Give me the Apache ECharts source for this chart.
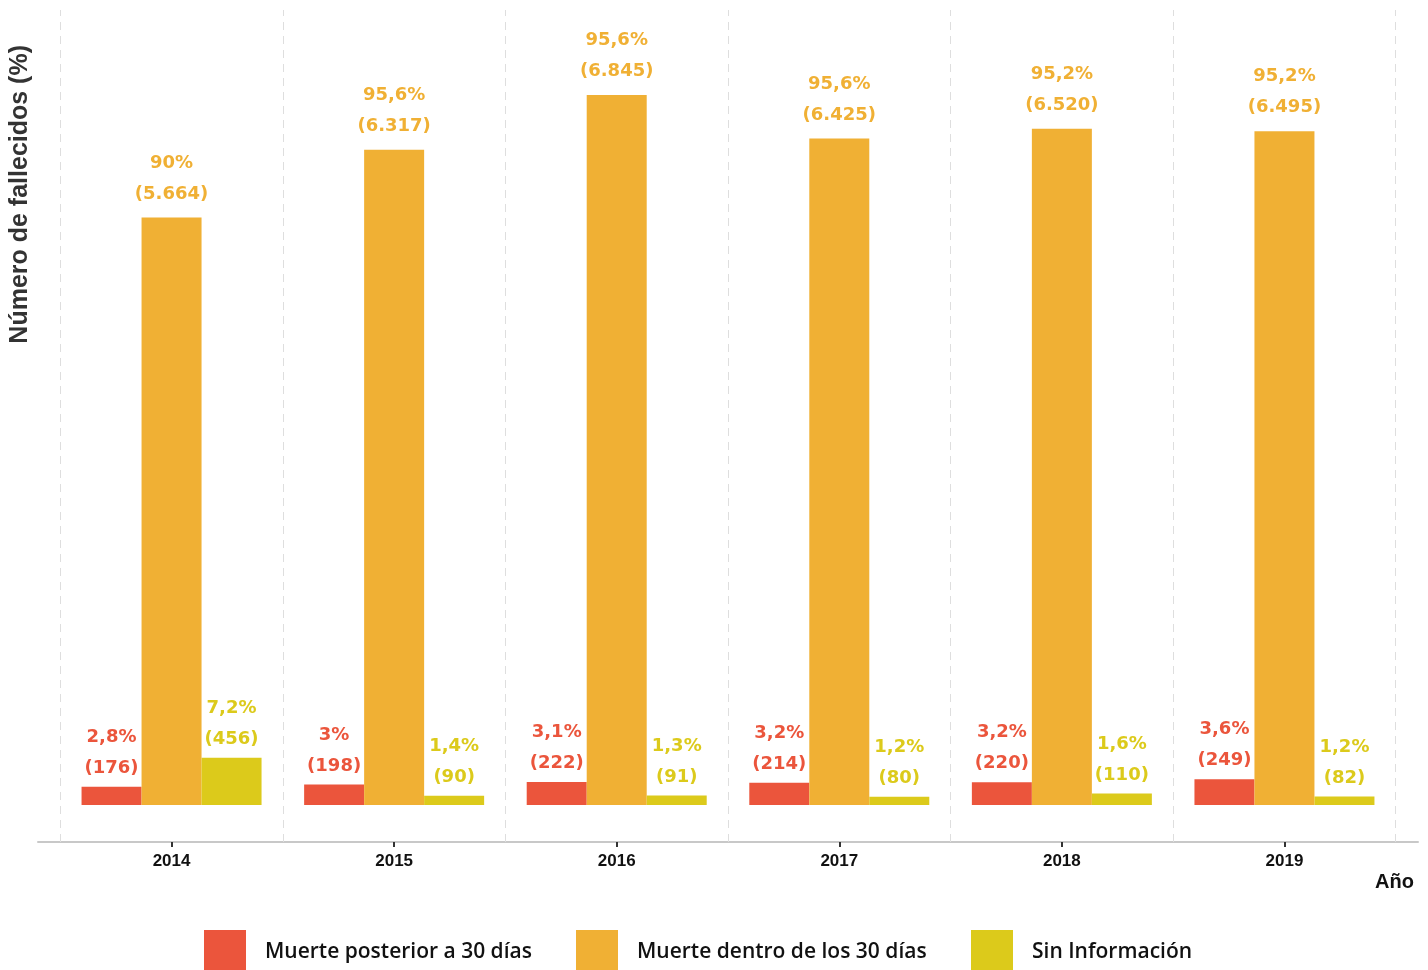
<!DOCTYPE html>
<html>
<head>
<meta charset="utf-8">
<script src="https://cdn.jsdelivr.net/npm/echarts@6/dist/echarts.min.js"></script>
<style>
html,body{margin:0;padding:0;background:#fff;}
#chart{width:1428px;height:970px;}
</style>
</head>
<body>
<div id="chart"></div>
<script>
// ---- data ----
const years = ['2014', '2015', '2016', '2017', '2018', '2019'];
const xPos = [1, 2, 3, 4, 5, 6];
const separators = [0.5, 1.5, 2.5, 3.5, 4.5, 5.5, 6.5];
const seriesNames = ['Muerte posterior a 30 días', 'Muerte dentro de los 30 días', 'Sin Información'];
const postCounts = [176, 198, 222, 214, 220, 249];
const postPct = ['2,8%', '3%', '3,1%', '3,2%', '3,2%', '3,6%'];
const withinCounts = [5664, 6317, 6845, 6425, 6520, 6495];
const withinPct = ['90%', '95,6%', '95,6%', '95,6%', '95,2%', '95,2%'];
const noInfoCounts = [456, 90, 91, 80, 110, 82];
const noInfoPct = ['7,2%', '1,4%', '1,3%', '1,2%', '1,6%', '1,2%'];

const colors = ['#EB553C', '#F0B034', '#DCCA1B'];
const labelFont = '"DejaVu Sans", sans-serif';
const legendFont = '"Open Sans", sans-serif';
const axisFont = '"Liberation Sans", Arial, sans-serif';

function fmtCount(n) {
  return String(n).replace(/\B(?=(\d{3})+(?!\d))/g, '.');
}

function makeSeries(name, counts, pcts, color, dist) {
  return {
    name: name,
    type: 'bar',
    barWidth: 60,
    barGap: '0%',
    data: counts.map((c, i) => [xPos[i], c]),
    itemStyle: { color: color },
    label: {
      show: true,
      position: 'top',
      distance: dist,
      color: color,
      fontFamily: labelFont,
      fontWeight: 'bold',
      fontSize: 18,
      lineHeight: 31,
      formatter: p => pcts[p.dataIndex] + '\n(' + fmtCount(counts[p.dataIndex]) + ')'
    }
  };
}

const s1 = makeSeries(seriesNames[0], postCounts, postPct, colors[0], 3);
const s2 = makeSeries(seriesNames[1], withinCounts, withinPct, colors[1], 8);
const s3 = makeSeries(seriesNames[2], noInfoCounts, noInfoPct, colors[2], 3);
s2.markLine = {
  silent: true,
  symbol: 'none',
  label: { show: false },
  lineStyle: { type: [8, 6], color: '#dedede', width: 1 },
  data: separators.map(v => ({ xAxis: v }))
};

function legendFor(i, left) {
  return {
    data: [seriesNames[i]],
    left: left,
    top: 930,
    padding: 0,
    icon: 'rect',
    itemWidth: 42,
    itemHeight: 44,
    textStyle: {
      fontFamily: legendFont,
      fontWeight: 600,
      fontSize: 21,
      color: '#111',
      padding: [0, 0, 0, 14]
    }
  };
}

const chart = echarts.init(document.getElementById('chart'));
chart.setOption({
  backgroundColor: '#fff',
  animation: false,
  grid: { left: 38, right: 10, top: 10, bottom: 128 },
  legend: [legendFor(0, 204), legendFor(1, 576), legendFor(2, 971)],
  xAxis: {
    type: 'value',
    min: 0.4,
    max: 6.6,
    name: 'Año',
    nameLocation: 'end',
    nameGap: -4,
    nameTextStyle: {
      fontFamily: axisFont,
      fontWeight: 'bold',
      fontSize: 20,
      color: '#111',
      align: 'right',
      verticalAlign: 'top',
      lineHeight: 22,
      padding: [29, 0, 0, 0]
    },
    axisLine: { show: true, onZero: false, lineStyle: { color: '#c8c8c8', width: 2 } },
    axisTick: { show: true, customValues: xPos, length: 5, lineStyle: { color: '#333', width: 2 } },
    axisLabel: {
      customValues: xPos,
      margin: 11,
      fontFamily: axisFont,
      fontWeight: 'bold',
      fontSize: 17,
      color: '#111',
      formatter: v => years[Math.round(v) - 1]
    },
    splitLine: { show: false }
  },
  yAxis: {
    type: 'value',
    min: -357,
    max: 7664,
    offset: 18,
    name: 'Número de fallecidos (%)',
    nameLocation: 'end',
    nameRotate: 90,
    nameGap: -35,
    nameTextStyle: {
      fontFamily: axisFont,
      fontWeight: 'bold',
      fontSize: 25,
      color: '#333',
      align: 'right',
      verticalAlign: 'middle'
    },
    axisLine: { show: false },
    axisTick: { show: false },
    axisLabel: { show: false },
    splitLine: { show: false }
  },
  series: [s1, s2, s3]
});
</script>
</body>
</html>
